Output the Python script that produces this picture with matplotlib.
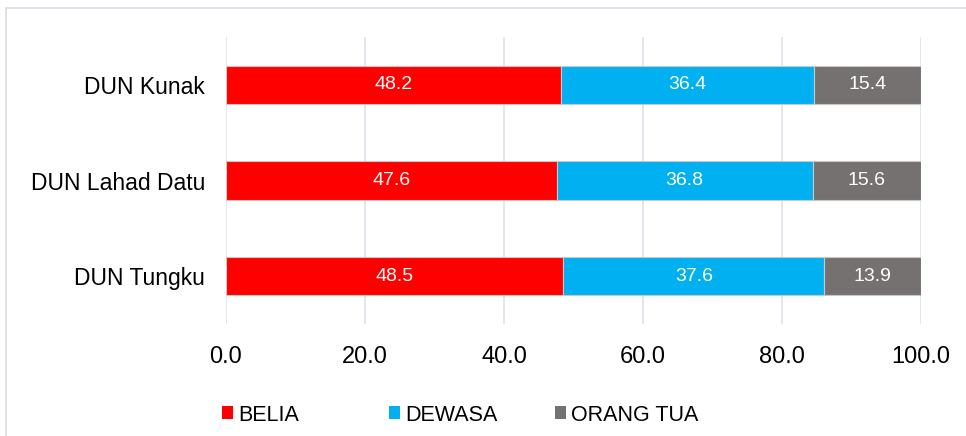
import matplotlib
matplotlib.use("Agg")
from matplotlib import pyplot as plt
from matplotlib.patches import Patch, Rectangle
import numpy as np

categories = ["DUN Tungku", "DUN Lahad Datu", "DUN Kunak"]
belia = [48.5, 47.6, 48.2]
dewasa = [37.6, 36.8, 36.4]
orang_tua = [13.9, 15.6, 15.4]
series_names = ["BELIA", "DEWASA", "ORANG TUA"]
series_colors = ["#FF0000", "#00B0F0", "#767171"]
x_ticks = [0, 20, 40, 60, 80, 100]

plt.rcParams['font.family'] = ['Liberation Sans', 'DejaVu Sans']

W, H = 966, 436
fig = plt.figure(figsize=(W / 100, H / 100), dpi=100)
ax = fig.add_axes([226 / W, 1 - 324 / H, (921 - 226) / W, (324 - 37) / H])

# outer chart border (cut off on the right and bottom)
fig.patches.append(Rectangle((6 / W, -0.1), 1.2, 1 - 8 / H + 0.1, transform=fig.transFigure,
                             fill=False, edgecolor="#D9DEE5", linewidth=1.2))

y = np.arange(len(categories))
left = np.zeros(len(categories))
for vals, name, col in zip([belia, dewasa, orang_tua], series_names, series_colors):
    bars = ax.barh(y, vals, left=left, height=0.4, color=col, edgecolor="#C8C8C8",
                   linewidth=0.8, label=name, zorder=3)
    ax.bar_label(bars, labels=[f"{v:.1f}" for v in vals], label_type="center",
                 color="white", fontsize=14)
    left += np.array(vals)

ax.set_xlim(0, 100)
ax.set_ylim(-0.5, 2.5)
ax.set_xticks(x_ticks)
ax.set_xticklabels([f"{t:.1f}" for t in x_ticks])
ax.set_yticks(y)
ax.set_yticklabels(categories)
ax.tick_params(axis="x", length=0, pad=16, labelsize=17)
ax.tick_params(axis="y", length=0, pad=15, labelsize=16.5)
ax.grid(axis="x", color="#DDE3EA", linewidth=1.2, zorder=0)
for s in ax.spines.values():
    s.set_visible(False)

# legend entries at fixed column positions like the original
legend_x = [222, 389, 555]
for name, col, lx in zip(series_names, series_colors, legend_x):
    fig.legend(handles=[Patch(facecolor=col, edgecolor="none")], labels=[name],
               loc="center left", bbox_to_anchor=(lx / W, 1 - 415 / H), frameon=False,
               fontsize=15.5, handlelength=0.5, handleheight=0.55, handletextpad=0.25,
               borderpad=0, borderaxespad=0)

fig.savefig("out.png", dpi=100)
